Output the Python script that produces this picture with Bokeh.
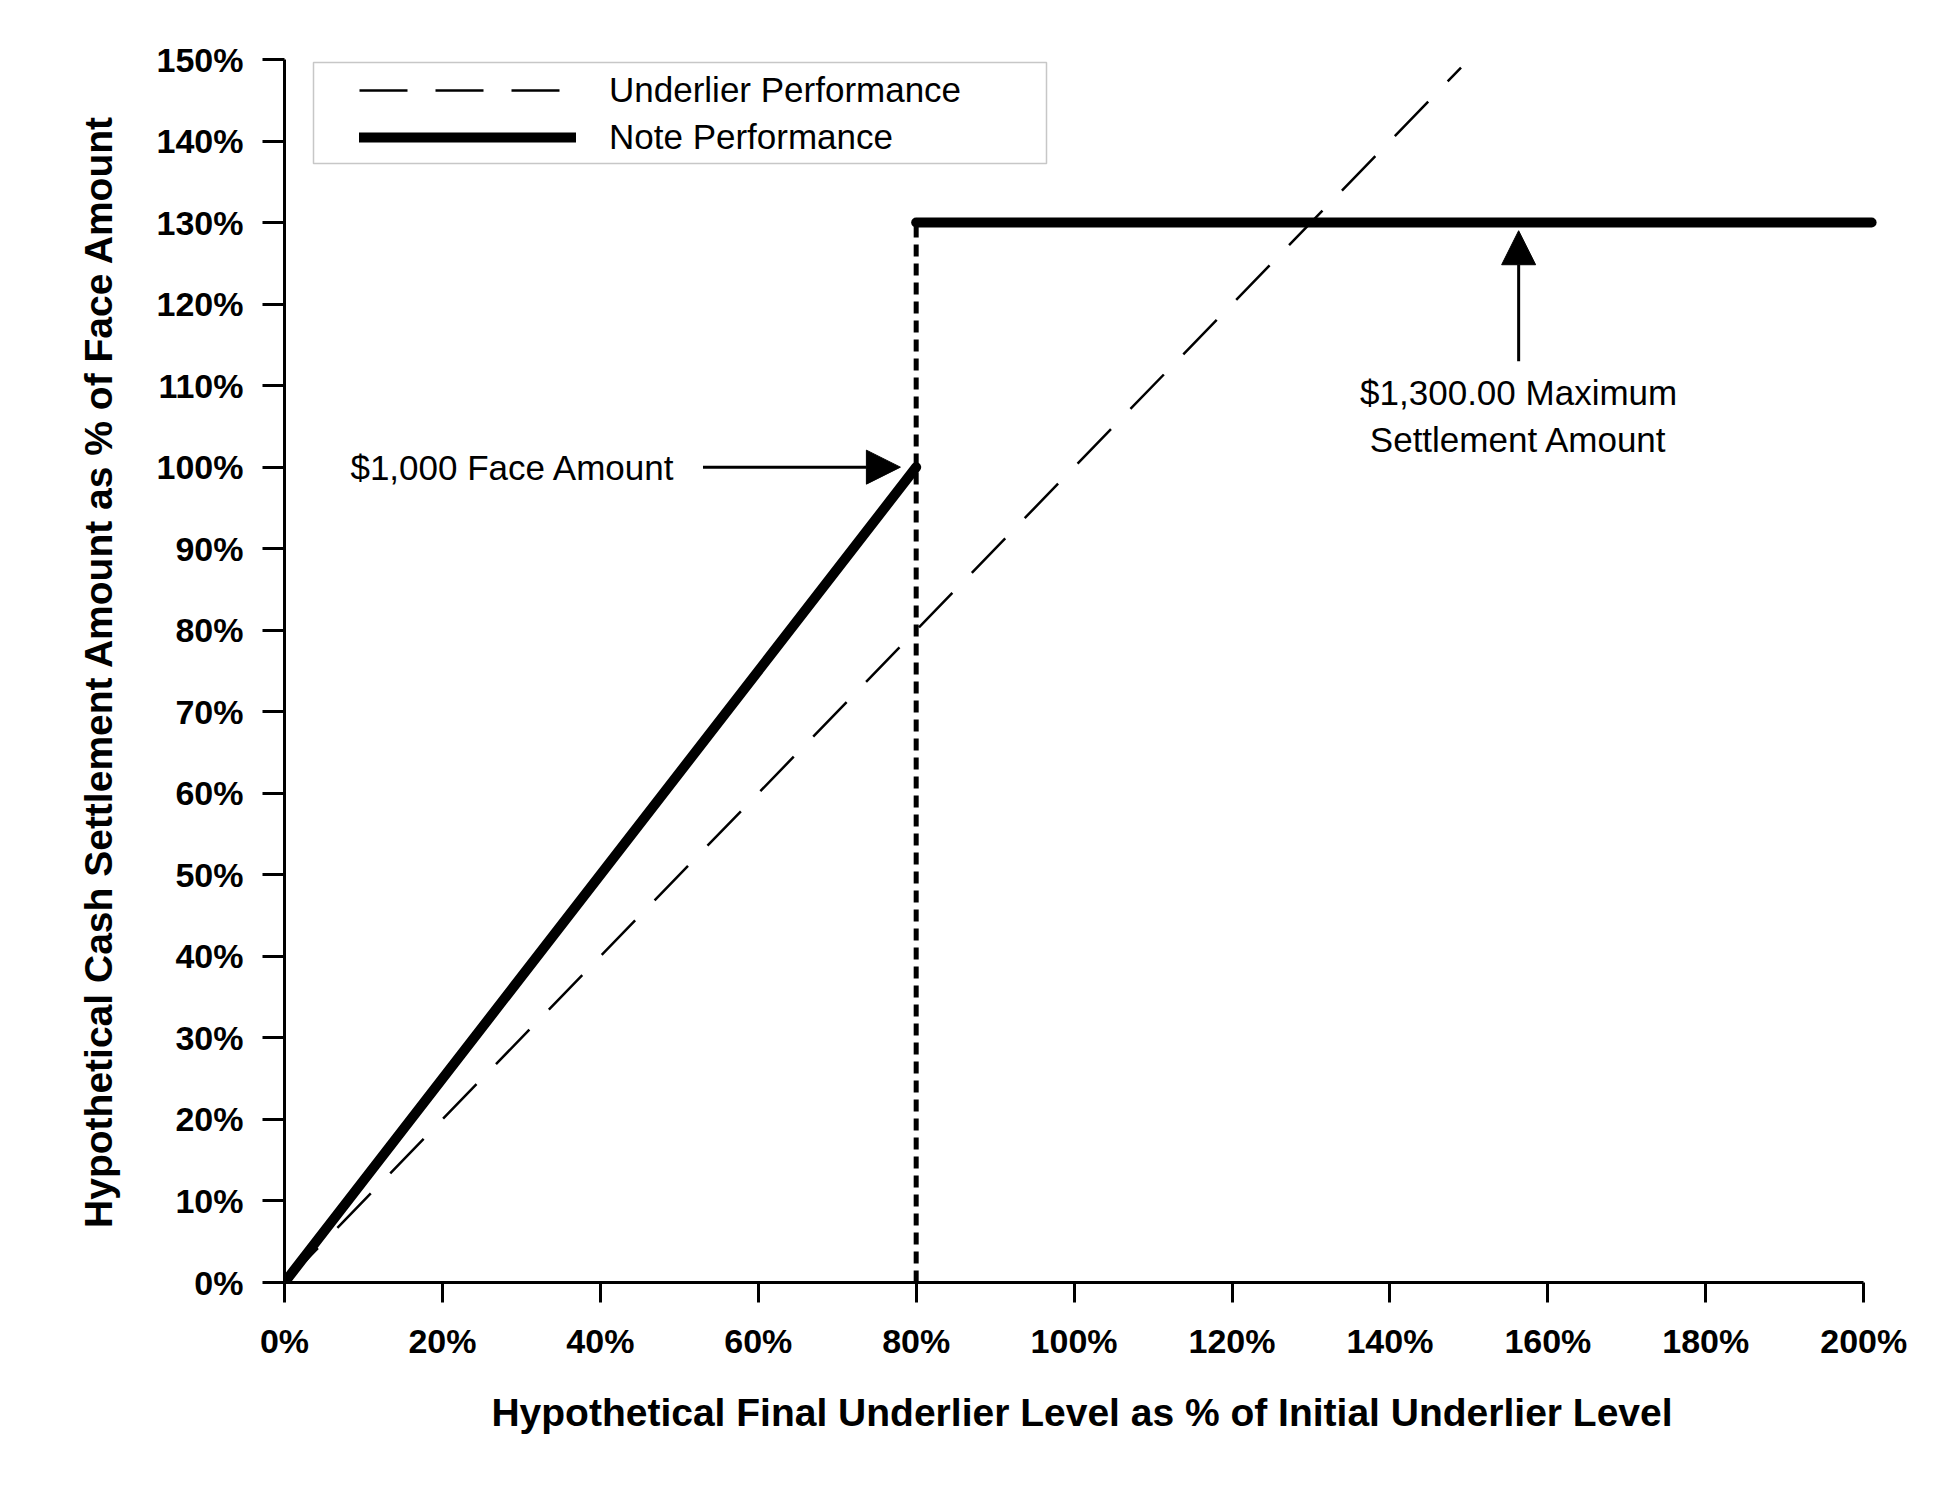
from bokeh.plotting import figure
from bokeh.models import (ColumnDataSource, Range1d, SingleIntervalTicker, PrintfTickFormatter,
                          Legend, LegendItem, Arrow, NormalHead, BoxAnnotation)
from bokeh.core.properties import value
from bokeh.embed import file_html
from bokeh.resources import INLINE

# data (percent of initial level / face amount)
underlier_x = [0, 149]
underlier_y = [0, 149]

note_xs = [[0, 80], [80, 201]]
note_ys = [[0, 100], [130, 130]]

barrier_x = [80, 80]
barrier_y = [0, 130]

face_note_x = [49.5]
face_note_y = [100]
face_note_text = ["$1,000 Face Amount"]
face_arrow = dict(x_start=53, x_end=78, y=100)

max_note_x = [156.3]
max_note_y = [111.5]
max_note_text = ["$1,300.00 Maximum\nSettlement Amount"]
max_arrow = dict(x=156.3, y_start=113, y_end=129)

FONT = "Liberation Sans"

p = figure(width=1938, height=1478, output_backend="svg", toolbar_location=None, tools="",
           x_range=Range1d(0, 202), y_range=Range1d(0, 150),
           min_border_left=284, min_border_right=59, min_border_top=59, min_border_bottom=196)
p.outline_line_color = None
p.xgrid.grid_line_color = None
p.ygrid.grid_line_color = None

# lines
dashed = p.line(underlier_x, underlier_y, line_color="black", line_width=2.5, line_dash="48 28")
note = p.multi_line(note_xs, note_ys, line_color="black", line_width=10,
                    line_cap="round", line_join="round")
p.line(barrier_x, barrier_y, line_color="black", line_width=5, line_dash="12 7")

# axes
for ax, step, bnds in ((p.xaxis, 20, (0, 200)), (p.yaxis, 10, (0, 150))):
    ax.ticker = SingleIntervalTicker(interval=step)
    ax.formatter = PrintfTickFormatter(format="%d%%")
    ax.bounds = bnds
    ax.axis_line_color = "black"
    ax.axis_line_width = 3
    ax.major_tick_line_color = "black"
    ax.major_tick_line_width = 3
    ax.major_tick_in = 0
    ax.minor_tick_line_color = None
    ax.major_label_text_font = FONT
    ax.major_label_text_font_size = "34px"
    ax.major_label_text_font_style = "bold"
    ax.major_label_text_color = "black"
    ax.major_label_standoff = 19
    ax.axis_label_text_font = FONT
    ax.axis_label_text_font_size = "39px"
    ax.axis_label_text_font_style = "bold"
    ax.axis_label_text_color = "black"

p.xaxis.major_tick_out = 20
p.yaxis.major_tick_out = 22
p.xaxis.axis_label = "Hypothetical Final Underlier Level as % of Initial Underlier Level"
p.yaxis.axis_label = "Hypothetical Cash Settlement Amount as % of Face Amount"
p.xaxis.axis_label_standoff = 28
p.yaxis.axis_label_standoff = 34

# annotations
p.add_layout(Arrow(end=NormalHead(size=34, fill_color="black", line_color="black"),
                   x_start=face_arrow["x_start"], y_start=face_arrow["y"],
                   x_end=face_arrow["x_end"], y_end=face_arrow["y"],
                   line_width=3, line_color="black"))
p.add_layout(Arrow(end=NormalHead(size=34, fill_color="black", line_color="black"),
                   x_start=max_arrow["x"], y_start=max_arrow["y_start"],
                   x_end=max_arrow["x"], y_end=max_arrow["y_end"],
                   line_width=3, line_color="black"))

face_src = ColumnDataSource(dict(x=face_note_x, y=face_note_y, text=face_note_text))
p.text(x="x", y="y", text="text", source=face_src, text_font=value(FONT), text_font_size="35px",
       text_align="right", text_baseline="middle", text_color="black")
max_src = ColumnDataSource(dict(x=max_note_x, y=max_note_y, text=max_note_text))
p.text(x="x", y="y", text="text", source=max_src, text_font=value(FONT), text_font_size="35px",
       text_align="center", text_baseline="top", text_color="black", text_line_height=1.2)

# legend box and legend
box = BoxAnnotation(left=29, right=762, top=1220, bottom=1119,
                    left_units="screen", right_units="screen", top_units="screen", bottom_units="screen",
                    fill_color="white", fill_alpha=1, line_color="#444444", line_width=1.5)
p.add_layout(box)
legend = Legend(items=[LegendItem(label="Underlier Performance", renderers=[dashed]),
                       LegendItem(label="Note Performance", renderers=[note])],
                location=(75, 1122), glyph_width=217, glyph_height=46, label_height=46,
                spacing=1, padding=0, margin=0, label_standoff=33,
                label_text_font=FONT, label_text_font_size="35px", label_text_color="black",
                border_line_alpha=0, background_fill_alpha=0)
p.add_layout(legend)

open("out.html", "w").write(file_html(p, INLINE))
